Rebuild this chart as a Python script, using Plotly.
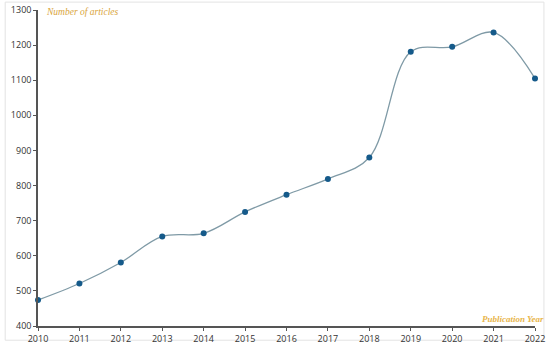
import plotly.graph_objects as go

years = [2010, 2011, 2012, 2013, 2014, 2015, 2016, 2017, 2018, 2019, 2020, 2021, 2022]
articles = [474, 521, 581, 655, 664, 725, 774, 819, 880, 1181, 1195, 1236, 1105]
y_ticks = [400, 500, 600, 700, 800, 900, 1000, 1100, 1200, 1300]

fig = go.Figure()
fig.add_trace(go.Scatter(
    x=years, y=articles, mode="lines+markers",
    line=dict(color="#7f9aa6", width=1.3, shape="spline", smoothing=1.0),
    marker=dict(color="#155a8a", size=6),
    hoverinfo="x+y", showlegend=False, cliponaxis=False,
))

axis_font = dict(family="Open Sans, Liberation Sans, sans-serif", size=9, color="#333333")
fig.update_layout(
    width=550, height=348,
    margin=dict(l=38, r=15, t=10, b=22, autoexpand=False),
    paper_bgcolor="white", plot_bgcolor="white",
    xaxis=dict(range=[2010, 2022], tickvals=years, ticktext=[str(y) for y in years],
               showgrid=False, zeroline=False, showline=True, linecolor="#555555",
               linewidth=1.5, ticks="outside", ticklen=3, tickcolor="#555555",
               tickfont=axis_font, automargin=False),
    yaxis=dict(range=[400, 1300], tickvals=y_ticks, showgrid=False, zeroline=False,
               showline=True, linecolor="#555555", linewidth=1.5, ticks="outside",
               ticklen=3, tickcolor="#555555", tickfont=axis_font, automargin=False),
    annotations=[
        dict(text="<i>Number of articles</i>", xref="paper", yref="paper", x=0.012, y=0.995,
             xanchor="left", yanchor="middle", showarrow=False,
             font=dict(family="Liberation Serif, DejaVu Serif, serif", size=9.5, color="#d9a43a")),
        dict(text="<b><i>Publication Year</i></b>", xref="paper", yref="paper", x=1.022, y=0.0,
             xanchor="right", yanchor="bottom", showarrow=False,
             font=dict(family="Liberation Serif, DejaVu Serif, serif", size=9, color="#e8b54a")),
    ],
    shapes=[dict(type="rect", xref="paper", yref="paper", x0=-0.066, x1=1.018, y0=-0.045, y1=1.025,
                 line=dict(color="#e3e3e3", width=1), layer="below")],
)
fig.write_html("out.html", config={"displayModeBar": False},
               post_script="document.body.style.margin='0';document.body.style.overflow='hidden';")
